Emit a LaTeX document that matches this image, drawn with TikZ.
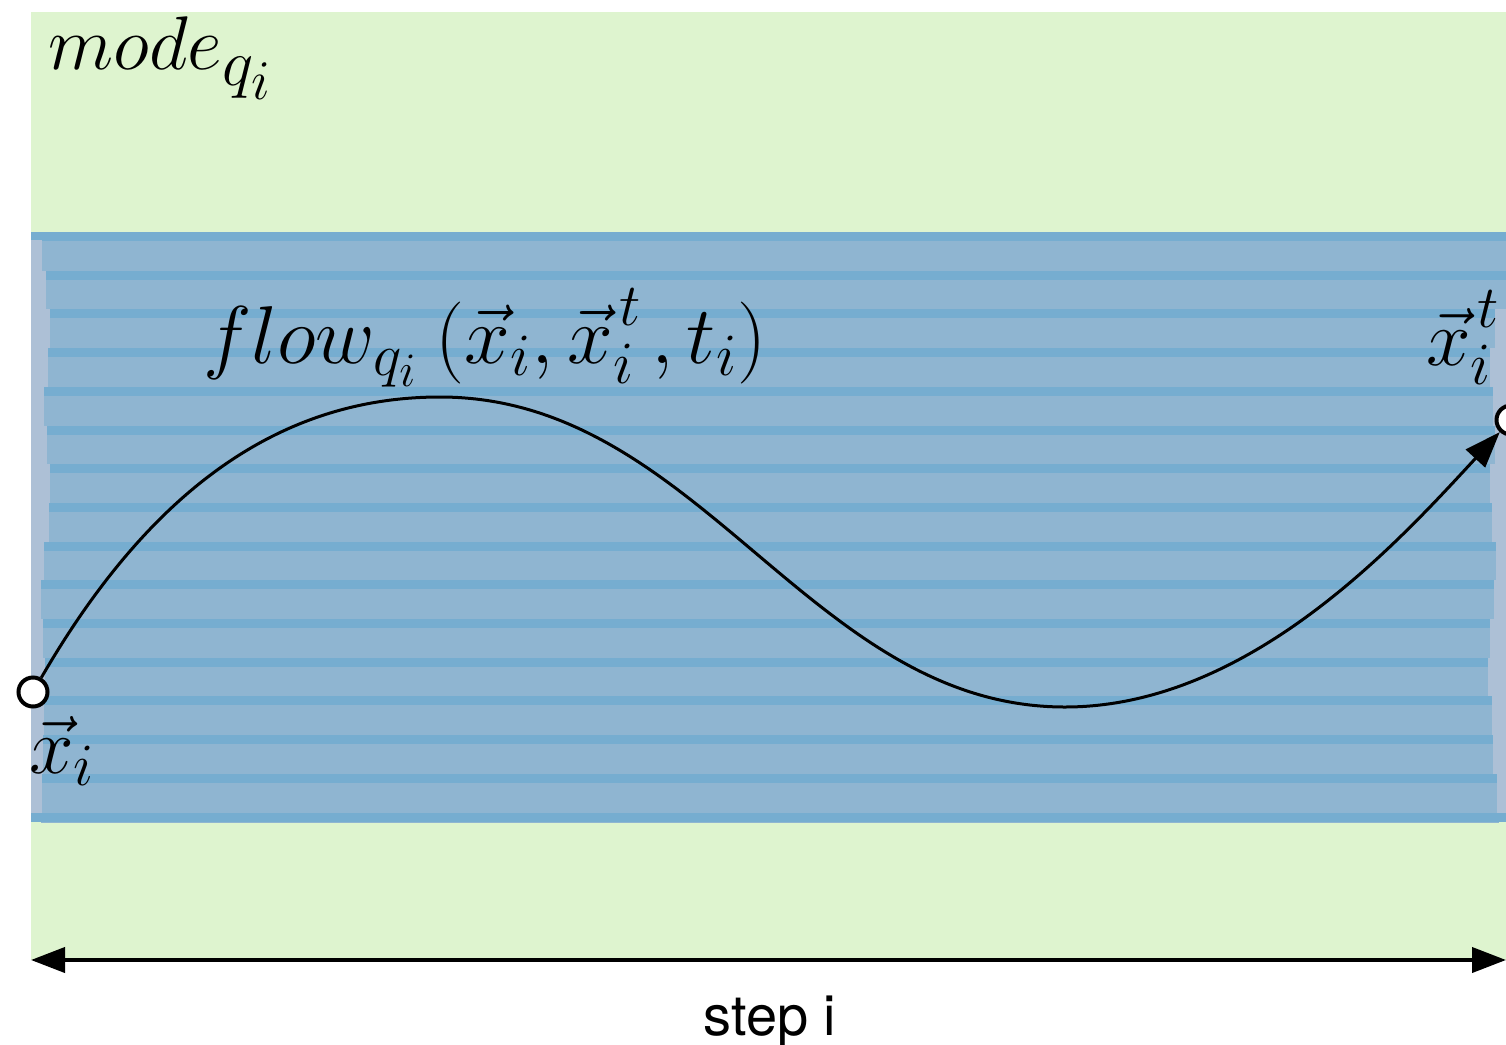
\documentclass[tikz,border=0pt]{standalone}
\usepackage{fix-cm}
\usepackage{fontspec}
\newfontfamily\stepfont{TeX Gyre Heros}
\DeclareMathSizes{38}{38}{33}{28}
\DeclareMathSizes{40}{40}{30}{24}
\DeclareMathSizes{41}{41}{30}{24}
\newcommand{\suptee}{\raisebox{4pt}{$\scriptstyle\mkern2mu t$}}
\usetikzlibrary{arrows.meta}
\definecolor{modegreen}{HTML}{DEF4CF}
\definecolor{bandlight}{HTML}{ADC0D6}
\definecolor{bandmid}{HTML}{8FB5D1}
\definecolor{banddark}{HTML}{76ADD0}
\begin{document}
\begin{tikzpicture}[x=0.5pt,y=-0.5pt,
  endpt/.style={circle, draw=black, fill=white, line width=2pt, minimum size=14.5pt, inner sep=0pt},
  mathlbl/.style={font=\fontsize{40}{48}\selectfont, inner sep=0pt},
  flowline/.style={line width=1.5pt, -{Triangle[length=18pt,width=13pt]}},
  spanline/.style={line width=2pt, {Triangle[length=17pt,width=12.5pt]}-{Triangle[length=17pt,width=12.5pt]}}]
\useasboundingbox (0,0) rectangle (1506,1045);
\clip (0,0) rectangle (1506,1045);
% mode region
\fill[modegreen] (31,12) rectangle (1506,960);
% flow band (sketch-like hachure)
\fill[bandlight] (31,232) rectangle (1506,822);
\begin{scope}
\clip (31,232) rectangle (1506,822);
\fill[banddark] (31,232) rectangle (1506,240);
\foreach \k/\l/\r in {0/42/1506,1/46/1506,2/50/1495,3/48/1490,4/44/1493,5/47/1495,6/50/1490,7/49/1492,8/44/1496,9/41/1494,10/43/1490,11/45/1488,12/44/1492,13/43/1493,14/42/1497,15/41/1499} {
  \fill[bandmid] (\l,{232+\k*38.7}) rectangle (\r,{232+(\k+1)*38.7});
  \fill[banddark] (\l,{232+\k*38.7}) rectangle (\r,{241+\k*38.7});
}
\fill[banddark] (31,813) rectangle (1506,822);
\end{scope}
% endpoints
\node[endpt] (xi) at (33,692) {};
\node[endpt] (xt) at (1511,420) {};
\coordinate (peak) at (440,397);
\coordinate (trough) at (1065,707);
% flow curve
\draw[flowline] (xi) .. controls (150,490) and (280,397) .. (peak)
  .. controls (700,397) and (810,707) .. (trough)
  .. controls (1250,707) and (1400,540) .. (xt);
% labels
\node[mathlbl, font=\fontsize{38}{46}\selectfont, anchor=base west] (modelbl) at (48,69) {$mode_{\raisebox{-2.5pt}{$\scriptstyle q_i$}}$};
\node[mathlbl, font=\fontsize{41}{50}\selectfont, anchor=base west] (flowlbl) at (203,363) {$flow_{q_i}\mkern4mu(\vec{x}_i,\vec{x}_i^{\suptee}\mkern2mu,t_i)$};
\node[mathlbl, anchor=base west] (xilbl) at (29,773) {$\vec{x}_i$};
\node[mathlbl, anchor=base west] (xtlbl) at (1426,365) {$\vec{x}_i^{\suptee}$};
% step span
\coordinate (sl) at (31,960);
\coordinate (sr) at (1506,960);
\draw[spanline] (sl) -- (sr);
\node[font=\stepfont\fontsize{28}{34}\selectfont, anchor=base, inner sep=0pt] (steplbl) at (770,1035) {step i};
\end{tikzpicture}
\end{document}
